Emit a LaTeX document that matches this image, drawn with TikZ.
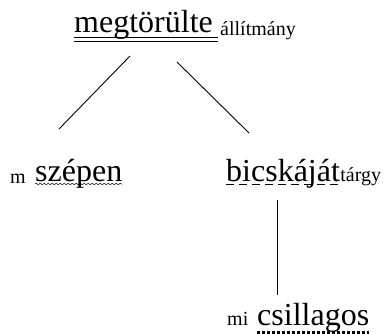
\documentclass[tikz,border=0pt]{standalone}
\usepackage{fontspec}
\setmainfont{Liberation Serif}
\usetikzlibrary{calc}
\usetikzlibrary{decorations.pathmorphing}

\tikzset{
  word/.style={anchor=base west, inner sep=0pt, font=\fontsize{32}{36}\selectfont},
  role/.style={anchor=base west, inner sep=0pt, font=\fontsize{20}{24}\selectfont},
  branch/.style={line width=0.9pt},
}

\begin{document}
\begin{tikzpicture}[x=1pt,y=-1pt]
	\useasboundingbox (0,0) rectangle (385,334);
	% words and roles
	\node[word] (pred) at (74,33) {megtörülte};
	\node[role] (predrole) at (220,36) {állítmány};
	\node[role] (advrole) at (10,183) {m};
	\node[word] (adv) at (35,181) {szépen};
	\node[word] (obj) at (226,181) {bicskáját};
	\node[role] (objrole) at (obj.base east) {tárgy};
	\node[role] (attrrole) at (227,325) {mi};
	\node[word] (attr) at (257,325) {csillagos};
	% underlines
	\draw[line width=0.8pt] ($(pred.base west)+(0,4)$) -- ($(predrole.base west)+(-2,1)$);
	\draw[line width=0.8pt] ($(pred.base west)+(0,8)$) -- ($(predrole.base west)+(-2,5)$);
	\draw[line width=0.5pt, decorate, decoration={snake, amplitude=0.8pt, segment length=4pt}] ($(adv.base west)+(0,3)$) -- ($(adv.base east)+(0,3)$);
	\draw[line width=1pt, dash pattern=on 8pt off 5pt] ($(obj.base west)+(0,3)$) -- ($(obj.base east)+(0,3)$);
	\draw[line width=3pt, dash pattern=on 3pt off 2pt] ($(attr.base west)+(0,7)$) -- ($(attr.base east)+(0,7)$);
	% branches
	\coordinate (predL) at (130,56);
	\coordinate (predR) at (177,62);
	\coordinate (advT) at (59,129);
	\coordinate (objT) at (249,133);
	\coordinate (objB) at (277,200);
	\coordinate (attrT) at (277,295);
	\draw[branch] (predL) -- (advT);
	\draw[branch] (predR) -- (objT);
	\draw[branch] (objB) -- (attrT);
\end{tikzpicture}
\end{document}
